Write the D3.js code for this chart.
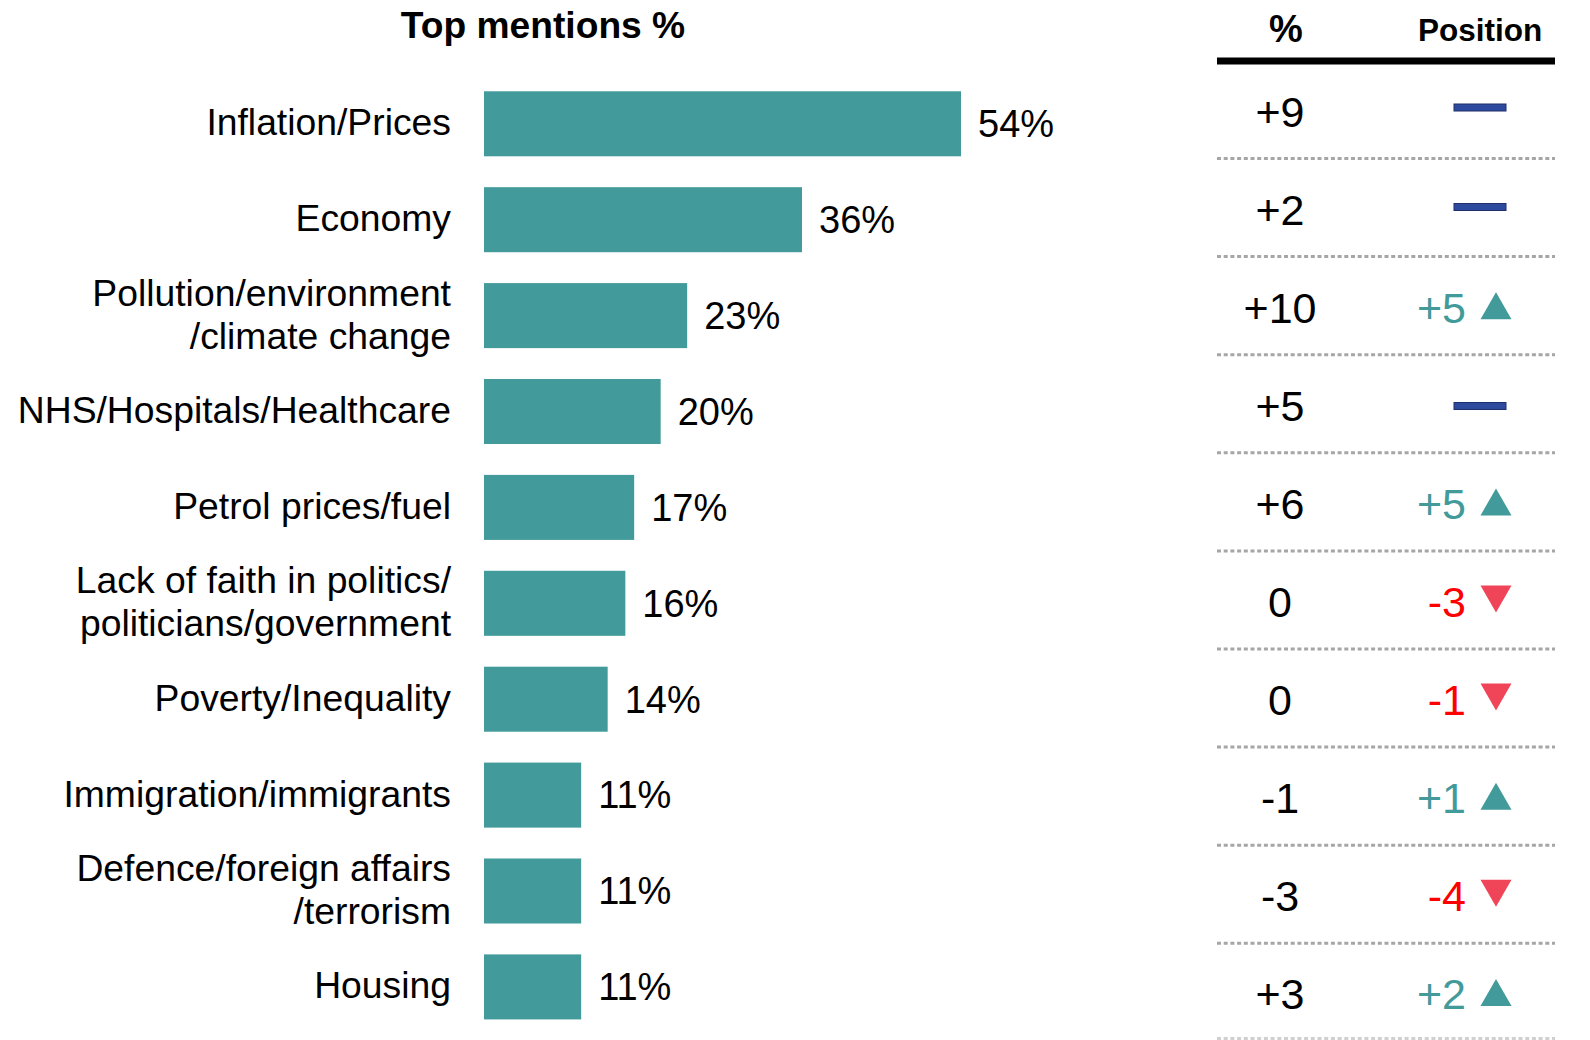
<!DOCTYPE html>
<html><head><meta charset="utf-8">
<script src="https://cdn.jsdelivr.net/npm/d3@7"></script>
<style>body{margin:0;background:#fff}svg{display:block}text{font-family:"Liberation Sans",Arial,sans-serif}</style>
</head><body>
<svg id="c" width="1590" height="1040"></svg>
<script>
const categories = [
  ["Inflation/Prices"],
  ["Economy"],
  ["Pollution/environment","/climate change"],
  ["NHS/Hospitals/Healthcare"],
  ["Petrol prices/fuel"],
  ["Lack of faith in politics/","politicians/government"],
  ["Poverty/Inequality"],
  ["Immigration/immigrants"],
  ["Defence/foreign affairs","/terrorism"],
  ["Housing"]
];
const mentions = [54, 36, 23, 20, 17, 16, 14, 11, 11, 11];
const pctChange = ["+9","+2","+10","+5","+6","0","0","-1","-3","+3"];
const positionChange = [0, 0, 5, 0, 5, -3, -1, 1, -4, 2];

const svg = d3.select("#c");
const ids = d3.range(categories.length);
const teal = "#429a9a", red = "#ff0000", redTri = "#f04558";

const x = d3.scaleLinear().domain([0, 54]).range([484, 961]);
const y = d3.scaleBand().domain(ids).range([75.85, 1034.85]).paddingInner(0.322).paddingOuter(0.161);
const yt = d3.scaleBand().domain(ids).range([62.45, 1043.45]);
const yDash = d3.scaleLinear().domain([0, 1]).range([107.5, 207]);

// title
svg.append("text").attr("x", 543).attr("y", 38).attr("text-anchor","middle")
  .attr("font-size", 37.2).attr("font-weight","bold").text("Top mentions %");

// bars
svg.selectAll("rect.bar").data(ids).join("rect").attr("class","bar")
  .attr("x", x(0)).attr("y", i => y(i)).attr("height", y.bandwidth())
  .attr("width", i => x(mentions[i]) - x(0)).attr("fill", teal);

svg.selectAll("text.val").data(ids).join("text").attr("class","val")
  .attr("x", i => x(mentions[i]) + 17).attr("y", i => y(i) + y.bandwidth()/2)
  .attr("dy","0.35em").attr("font-size", 38).text(i => mentions[i] + "%");

// category labels
const lab = svg.selectAll("text.cat").data(ids).join("text").attr("class","cat")
  .attr("text-anchor","end").attr("font-size", 37.3);
lab.each(function(i){
  const lines = categories[i];
  const cy = y(i) + y.bandwidth()/2 - 1.5;
  const t = d3.select(this);
  lines.forEach((l, k) => {
    t.append("tspan").attr("x", 451)
      .attr("y", cy + (k - (lines.length-1)/2) * 43)
      .attr("dy","0.35em").text(l);
  });
});

// table header
svg.append("text").attr("x", 1286).attr("y", 42).attr("text-anchor","middle")
  .attr("font-size", 38).attr("font-weight","bold").text("%");
svg.append("text").attr("x", 1480).attr("y", 41).attr("text-anchor","middle")
  .attr("font-size", 31.5).attr("font-weight","bold").text("Position");
svg.append("line").attr("x1", 1217).attr("x2", 1555).attr("y1", 61).attr("y2", 61)
  .attr("stroke","#000").attr("stroke-width", 7);

// table rows
const rc = i => yt(i) + yt.bandwidth()/2;
svg.selectAll("text.chg").data(ids).join("text").attr("class","chg")
  .attr("x", 1280).attr("y", rc).attr("dy","0.35em").attr("text-anchor","middle")
  .attr("font-size", 43).text(i => pctChange[i]);

svg.selectAll("line.sep").data(ids).join("line").attr("class","sep")
  .attr("x1", 1217).attr("x2", 1555)
  .attr("y1", i => Math.min(rc(i) + 47, 1038.5)).attr("y2", i => Math.min(rc(i) + 47, 1038.5))
  .attr("stroke", i => i === ids.length-1 ? "#d0d0d0" : "#a6a6a6")
  .attr("stroke-width", 3).attr("stroke-dasharray","4,2.7");

ids.forEach(i => {
  const v = positionChange[i], cy = rc(i);
  if (v === 0) {
    svg.append("rect").attr("x", 1454).attr("y", yDash(i) - 3.5).attr("width", 52).attr("height", 7)
      .attr("fill","#2e4a9e").attr("stroke","#1f2f6b").attr("stroke-width",1);
  } else {
    const up = v > 0;
    svg.append("text").attr("x", 1466).attr("y", cy).attr("dy","0.35em").attr("text-anchor","end")
      .attr("font-size", 43).attr("fill", up ? teal : red).text((up ? "+" : "") + v);
    const w = 31, h = 27, cx = 1496;
    const pts = up ? [[cx - w/2, cy + h/2 - 2],[cx + w/2, cy + h/2 - 2],[cx, cy - h/2 - 2]]
                   : [[cx - w/2, cy - h/2 - 3],[cx + w/2, cy - h/2 - 3],[cx, cy + h/2 - 3]];
    svg.append("path").attr("d", d3.line()(pts) + "Z").attr("fill", up ? teal : redTri);
  }
});
</script>
</body></html>
